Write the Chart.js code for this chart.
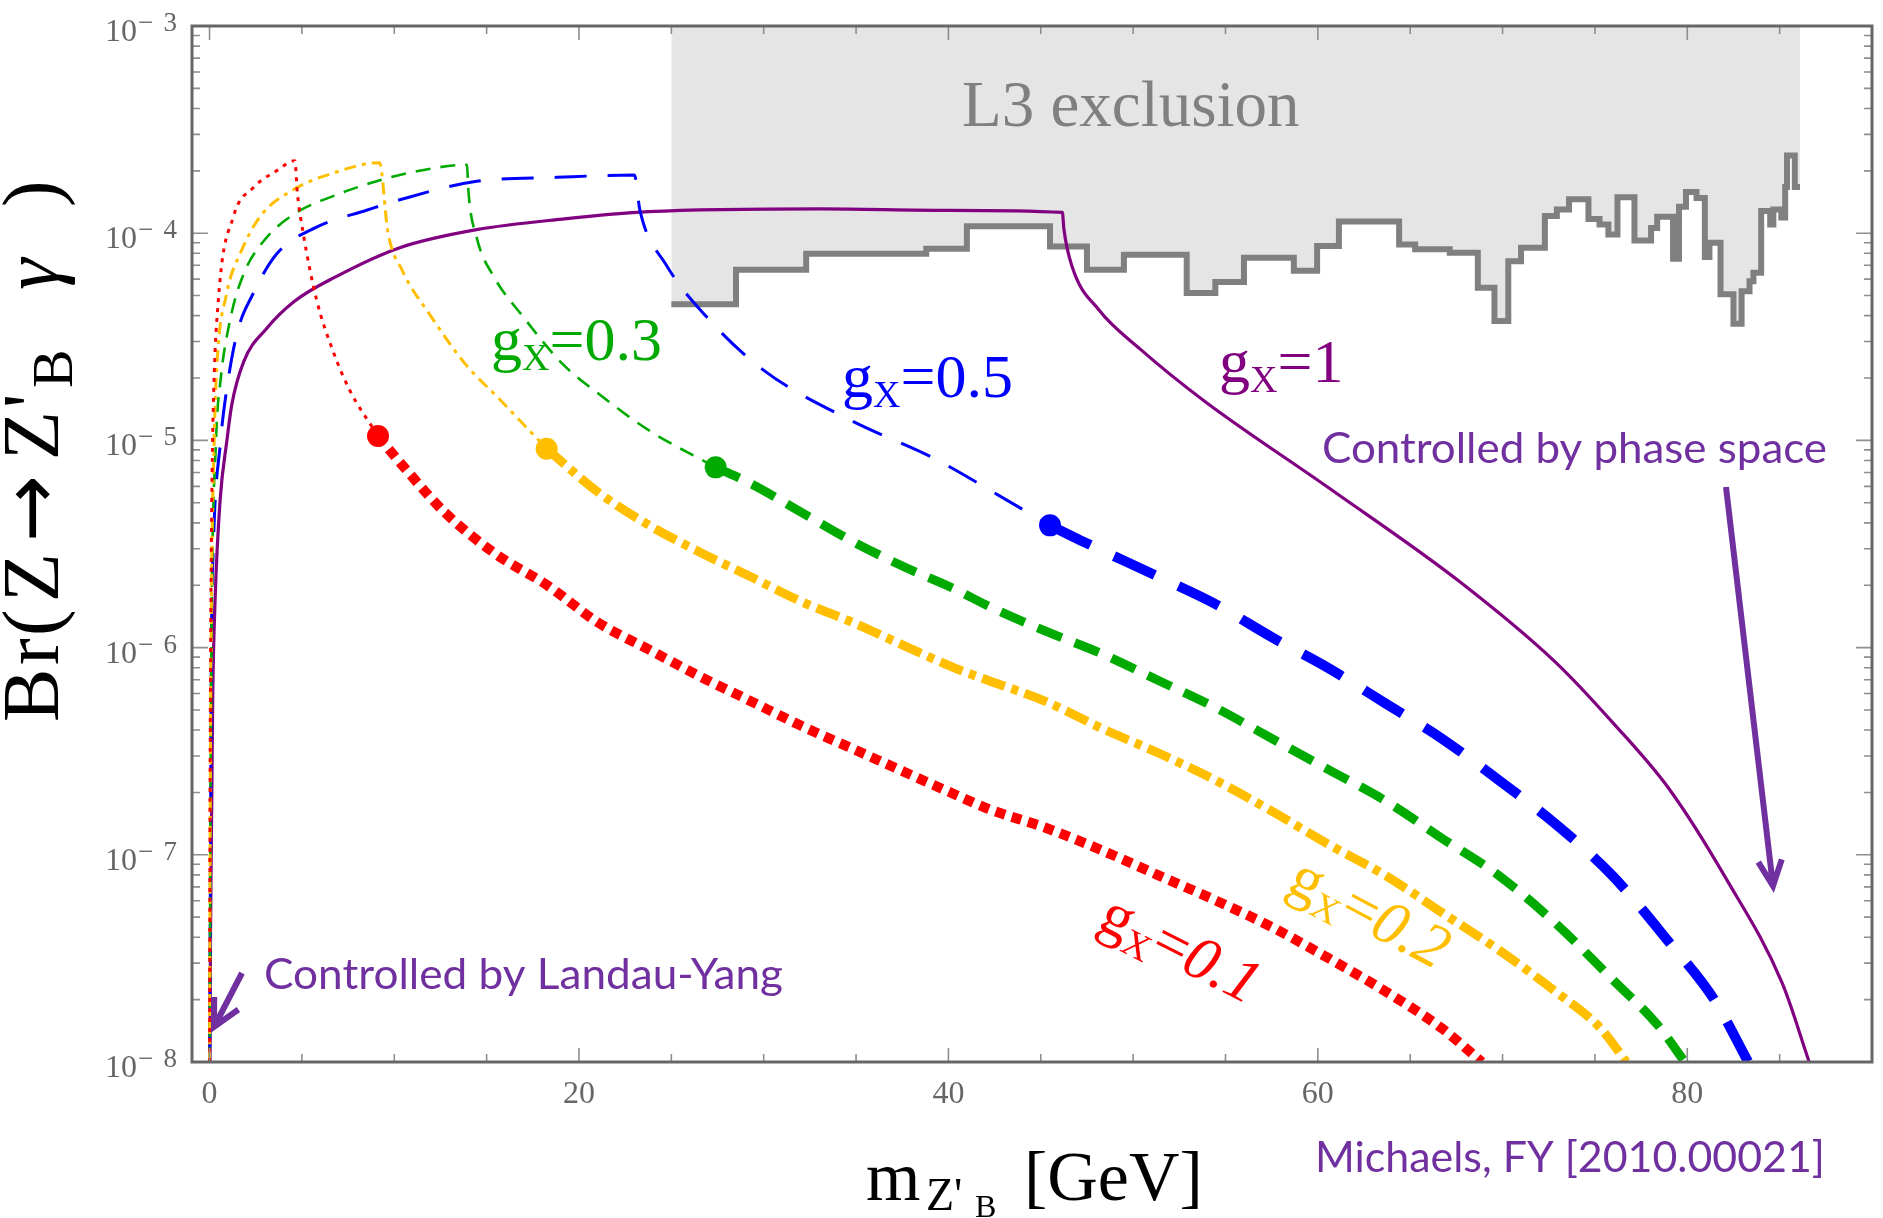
<!DOCTYPE html>
<html>
<head>
<meta charset="utf-8">
<script src="https://cdn.jsdelivr.net/npm/chart.js@4.4.1/dist/chart.umd.min.js"></script>
<style>
html, body { margin: 0; padding: 0; background: #fff; }
</style>
</head>
<body>
<canvas id="brChart" width="1883" height="1218" style="width:1883px;height:1218px;display:block"></canvas>
<script>
// g_x = 0.1 (thin: Landau-Yang rise + turn-over, thick: after the dot)
var redThinMass = [0.005, 0.02, 0.06, 0.12, 0.2, 0.48, 1.29, 2.37, 3.63, 4.62, 4.75, 5.07, 5.79, 6.69, 7.6, 9.12];
var redThinBr = [1e-8, 1e-7, 1e-6, 5.01e-6, 1.41e-5, 4.79e-5, 1.20e-4, 1.66e-4, 2.00e-4, 2.24e-4, 1.58e-4, 1.00e-4, 4.79e-5, 2.69e-5, 1.74e-5, 1.05e-5];
var redThickMass = [9.12, 10.82, 12.76, 15.52, 18.28, 21.04, 23.8, 26.57, 29.33, 32.09, 34.85, 37.62, 40.38, 42.2, 45.26, 48.32, 51.4, 54.46, 57.53, 60.6, 63.67, 66.73, 68.88];
var redThickBr = [1.05e-5, 6.92e-6, 4.47e-6, 2.82e-6, 2.00e-6, 1.32e-6, 9.77e-7, 7.24e-7, 5.50e-7, 4.17e-7, 3.24e-7, 2.51e-7, 1.95e-7, 1.66e-7, 1.35e-7, 1.05e-7, 7.94e-8, 6.03e-8, 4.47e-8, 3.16e-8, 2.19e-8, 1.45e-8, 1e-8];

// g_x = 0.2
var orangeThinMass = [0.005, 0.03, 0.08, 0.25, 0.39, 0.93, 1.65, 2.73, 4.53, 6.69, 9.2, 9.65, 10.43, 11.98, 13.84, 15.7, 18.25];
var orangeThinBr = [1e-8, 1e-7, 1e-6, 1e-5, 2.24e-5, 5.13e-5, 7.94e-5, 1.20e-4, 1.62e-4, 1.95e-4, 2.19e-4, 1.02e-4, 6.61e-5, 3.98e-5, 2.34e-5, 1.58e-5, 9.12e-6];
var orangeThickMass = [18.25, 21.04, 23.8, 26.57, 29.33, 32.09, 34.85, 37.62, 40.38, 42.2, 45.26, 48.32, 51.4, 54.46, 57.53, 60.6, 63.67, 66.73, 69.8, 72.86, 75.32, 76.7];
var orangeThickBr = [9.12e-6, 5.62e-6, 3.89e-6, 2.88e-6, 2.19e-6, 1.66e-6, 1.32e-6, 1.02e-6, 7.94e-7, 6.92e-7, 5.50e-7, 4.07e-7, 3.09e-7, 2.29e-7, 1.62e-7, 1.12e-7, 7.94e-8, 5.25e-8, 3.47e-8, 2.19e-8, 1.45e-8, 1e-8];

// g_x = 0.3
var greenThinMass = [0.01, 0.04, 0.1, 0.35, 0.57, 1.11, 1.83, 2.91, 4.53, 6.69, 9.4, 11.36, 13.94, 14.0, 14.46, 15.39, 16.95, 19.11, 21.29, 23.77, 27.4];
var greenThinBr = [1e-8, 1e-7, 1e-6, 1e-5, 1.86e-5, 3.80e-5, 6.31e-5, 9.12e-5, 1.23e-4, 1.51e-4, 1.82e-4, 2.00e-4, 2.14e-4, 1.66e-4, 9.55e-5, 6.17e-5, 3.98e-5, 2.34e-5, 1.62e-5, 1.12e-5, 7.41e-6];
var greenThickMass = [27.4, 29.33, 32.09, 34.85, 37.62, 40.38, 42.2, 45.26, 48.32, 51.4, 54.46, 57.53, 60.6, 63.67, 66.73, 69.8, 72.86, 75.94, 78.39, 79.87];
var greenThickBr = [7.41e-6, 6.17e-6, 4.47e-6, 3.24e-6, 2.45e-6, 1.91e-6, 1.58e-6, 1.20e-6, 9.33e-7, 6.92e-7, 5.13e-7, 3.63e-7, 2.57e-7, 1.82e-7, 1.20e-7, 7.94e-8, 4.68e-8, 2.51e-8, 1.51e-8, 1e-8];

// g_x = 0.5
var blueThinMass = [0.01, 0.05, 0.1, 0.2, 0.6, 0.84, 1.47, 2.37, 3.63, 5.79, 8.5, 10.3, 14.46, 18.8, 23.0, 23.3, 24.7, 26.87, 29.97, 34.63, 39.29, 43.0, 45.5];
var blueThinBr = [1e-8, 1e-7, 1e-6, 2.95e-6, 1e-5, 1.55e-5, 3.24e-5, 5.13e-5, 7.94e-5, 1.07e-4, 1.29e-4, 1.45e-4, 1.78e-4, 1.86e-4, 1.91e-4, 1.29e-4, 7.08e-5, 3.98e-5, 2.19e-5, 1.26e-5, 8.13e-6, 5.25e-6, 3.89e-6];
var blueThickMass = [45.5, 47.1, 51.4, 54.46, 57.53, 60.6, 63.67, 66.73, 69.8, 72.86, 75.94, 79.0, 81.46, 83.3];
var blueThickBr = [3.89e-6, 3.31e-6, 2.19e-6, 1.62e-6, 1.12e-6, 7.94e-7, 5.37e-7, 3.63e-7, 2.29e-7, 1.41e-7, 7.94e-8, 3.80e-8, 2.00e-8, 1e-8];

// g_x = 1
var purpleMass = [0.02, 0.05, 0.12, 0.17, 0.3, 0.57, 0.94, 1.2, 1.85, 3.09, 4.58, 6.85, 10.3, 14.46, 19.1, 23.77, 33.1, 40, 46.17, 46.25, 46.69, 48.14, 50.4, 53.85, 60.6, 67.65, 72.86, 75.94, 79.0, 82.07, 85.14, 86.6];
var purpleBr = [1e-8, 3.98e-8, 1.82e-7, 5.62e-7, 1.70e-6, 5.13e-6, 1.00e-5, 1.48e-5, 2.40e-5, 3.47e-5, 4.68e-5, 6.17e-5, 8.51e-5, 1.04e-4, 1.17e-4, 1.27e-4, 1.31e-4, 1.29e-4, 1.26e-4, 1.05e-4, 6.92e-5, 4.27e-5, 2.75e-5, 1.55e-5, 5.89e-6, 2.09e-6, 8.51e-7, 4.37e-7, 2.09e-7, 7.76e-8, 2.40e-8, 1e-8];

// dots where thin turns into thick
var dotMass = [9.12, 18.25, 27.4, 45.5];
var dotBr = [1.05e-5, 9.12e-6, 7.41e-6, 3.89e-6];

// L3 bound, value holds from each mass to the next
var l3Mass = [25.0, 28.5, 32.3, 38.8, 41.0, 45.5, 47.5, 49.5, 52.9, 54.45, 56.0, 58.7, 59.96, 61.14, 64.4, 65.27, 67.14, 68.66, 69.56, 70.31, 71.0, 72.29, 72.94, 73.6, 74.65, 75.25, 75.73, 76.22, 77.14, 78.04, 78.37, 79.23, 79.55, 79.93, 80.5, 80.95, 81.2, 81.8, 82.5, 82.94, 83.37, 83.58, 84.0, 84.49, 84.66, 85.09, 85.3, 85.4, 85.82, 86.1];
var l3Br = [4.54e-5, 6.67e-5, 7.96e-5, 8.41e-5, 1.08e-4, 8.63e-5, 6.67e-5, 7.87e-5, 5.14e-5, 5.81e-5, 7.62e-5, 6.58e-5, 8.67e-5, 1.14e-4, 8.83e-5, 8.36e-5, 8.05e-5, 5.46e-5, 3.77e-5, 7.33e-5, 8.51e-5, 1.21e-4, 1.30e-4, 1.46e-4, 1.17e-4, 1.10e-4, 9.86e-5, 1.49e-4, 9.23e-5, 1.06e-4, 1.20e-4, 7.53e-5, 1.34e-4, 1.58e-4, 1.48e-4, 7.67e-5, 8.99e-5, 5.07e-5, 3.66e-5, 5.25e-5, 5.87e-5, 6.44e-5, 1.28e-4, 1.10e-4, 1.30e-4, 1.19e-4, 1.67e-4, 2.37e-4, 1.67e-4, 1.67e-4];

var xTicks = [0, 20, 40, 60, 80];
var xTickLabels = ['0', '20', '40', '60', '80'];
var yTicks = [1e-8, 1e-7, 1e-6, 1e-5, 1e-4, 1e-3];
var yTickExp = ['8', '7', '6', '5', '4', '3'];

var RED = '#ff0000', ORANGE = '#ffbf00', GREEN = '#00aa00', BLUE = '#0000ff', PURPLE = '#800080';
var NOTE = '#7030a0';
var SERIF = '"Liberation Serif", "DejaVu Serif", serif';

function pts(ms, bs) {
  return ms.map(function (m, i) { return { x: m, y: bs[i] }; });
}

function curve(ms, bs, color, width, dash, order) {
  return {
    data: pts(ms, bs),
    borderColor: color,
    borderWidth: width,
    borderDash: dash,
    pointRadius: 0,
    fill: false,
    cubicInterpolationMode: 'monotone',
    clip: 0,
    order: order
  };
}

function drawPieces(ctx, pieces, x, y) {
  var cx = x;
  pieces.forEach(function (p) {
    ctx.font = p.font;
    ctx.fillText(p.text, cx, y + (p.dy || 0));
    cx += ctx.measureText(p.text).width + (p.gap || 0);
  });
  return cx - x;
}

function gLabel(ctx, color, num, italic) {
  ctx.fillStyle = color;
  return [
    { text: 'g', font: '62px ' + SERIF },
    { text: 'X', font: '38px ' + SERIF, dy: 10 },
    { text: '=', font: '62px ' + SERIF },
    { text: num, font: (italic ? 'italic ' : '') + '62px ' + SERIF }
  ];
}

function piecesWidth(ctx, pieces) {
  var w = 0;
  pieces.forEach(function (p) { ctx.font = p.font; w += ctx.measureText(p.text).width + (p.gap || 0); });
  return w;
}

function noteText(ctx, txt, left, right, base) {
  ctx.font = '42px Lato, "Open Sans", sans-serif';
  var w = ctx.measureText(txt).width;
  ctx.save();
  ctx.translate(left, base);
  ctx.scale((right - left) / w, 1);
  ctx.fillStyle = NOTE;
  ctx.textAlign = 'left';
  ctx.fillText(txt, 0, 0);
  ctx.restore();
}

function arrow(ctx, x1, y1, x2, y2, head, spread) {
  var a = Math.atan2(y1 - y2, x1 - x2);
  ctx.beginPath();
  ctx.moveTo(x1, y1);
  ctx.lineTo(x2, y2);
  ctx.moveTo(x2 + head * Math.cos(a - spread), y2 + head * Math.sin(a - spread));
  ctx.lineTo(x2, y2);
  ctx.lineTo(x2 + head * Math.cos(a + spread), y2 + head * Math.sin(a + spread));
  ctx.stroke();
}

var decor = {
  id: 'decor',
  afterDatasetsDraw: function (chart) {
    var ctx = chart.ctx, a = chart.chartArea;
    var xs = chart.scales.x, ys = chart.scales.y;
    ctx.save();

    // inward ticks
    ctx.strokeStyle = '#8e8e8e';
    ctx.lineWidth = 1.6;
    ctx.beginPath();
    for (var t = 0; t < 90; t += 5) {
      var px = xs.getPixelForValue(t);
      var len = (t % 20 === 0) ? 14 : 8;
      ctx.moveTo(px, a.bottom); ctx.lineTo(px, a.bottom - len);
      ctx.moveTo(px, a.top); ctx.lineTo(px, a.top + len);
    }
    for (var d = -8; d < -3; d++) {
      for (var k = 1; k <= 9; k++) {
        var py = ys.getPixelForValue(k * Math.pow(10, d));
        var ln = (k === 1) ? 16 : 8;
        ctx.moveTo(a.left, py); ctx.lineTo(a.left + ln, py);
        ctx.moveTo(a.right, py); ctx.lineTo(a.right - ln, py);
      }
    }
    ctx.stroke();

    // frame
    ctx.strokeStyle = '#666666';
    ctx.lineWidth = 3;
    ctx.strokeRect(a.left, a.top, a.right - a.left, a.bottom - a.top);

    // tick labels
    ctx.fillStyle = '#666666';
    ctx.textBaseline = 'alphabetic';
    ctx.font = '32px ' + SERIF;
    ctx.textAlign = 'center';
    xTicks.forEach(function (v, i) {
      ctx.fillText(xTickLabels[i], xs.getPixelForValue(v), a.bottom + 41);
    });
    yTicks.forEach(function (v, i) {
      var py = ys.getPixelForValue(v);
      ctx.font = '32px ' + SERIF;
      ctx.textAlign = 'right';
      ctx.fillText('10', 137, py + 15);
      ctx.font = '27px ' + SERIF;
      ctx.textAlign = 'left';
      ctx.fillText('\u2212', 138, py + 5);
      ctx.textAlign = 'right';
      ctx.fillText(yTickExp[i], 177, py + 5);
    });

    // axis titles
    ctx.fillStyle = '#000';
    ctx.textAlign = 'left';
    ctx.font = '70px ' + SERIF;
    ctx.fillText('m', 866, 1200);
    ctx.font = '46px ' + SERIF;
    ctx.fillText("Z'", 926, 1210);
    ctx.font = '32px ' + SERIF;
    ctx.fillText('B', 975, 1217);
    ctx.font = '70px ' + SERIF;
    ctx.fillText('[GeV]', 1024, 1200);

    ctx.save();
    ctx.translate(58, 722);
    ctx.rotate(-Math.PI / 2);
    var yt = [
      { t: 'B', at: 0 }, { t: 'r', at: 57 }, { t: '(', at: 86 }, { t: 'Z', at: 120 },
      { t: '\u2192', at: 180, arrow: true }, { t: 'Z', at: 262 }, { t: "'", at: 314 },
      { t: 'B', at: 334, sub: true }, { t: '\u03b3', at: 432, it: true }, { t: ')', at: 515 }
    ];
    yt.forEach(function (g) {
      if (g.arrow) {
        ctx.font = '80px "DejaVu Sans", sans-serif';
      } else {
        ctx.font = (g.it ? 'italic ' : '') + (g.sub ? 58 : 80) + 'px ' + SERIF;
      }
      ctx.fillText(g.t, g.at, g.sub ? 14 : 0);
    });
    ctx.restore();

    // L3 label
    ctx.fillStyle = '#808080';
    ctx.font = '65px ' + SERIF;
    ctx.fillText('L3 exclusion', 962, 126);

    // coupling labels
    drawPieces(ctx, gLabel(ctx, GREEN, '0.3', false), 491, 360);
    drawPieces(ctx, gLabel(ctx, BLUE, '0.5', false), 842, 397);
    drawPieces(ctx, gLabel(ctx, PURPLE, '1', false), 1219, 382);

    [[RED, '0.1', 1180, 950, 27], [ORANGE, '0.2', 1369, 914, 28]].forEach(function (r) {
      var pcs = gLabel(ctx, r[0], r[1], true);
      var w = piecesWidth(ctx, pcs);
      ctx.save();
      ctx.translate(r[2], r[3]);
      ctx.rotate(r[4] * Math.PI / 180);
      drawPieces(ctx, pcs, -w / 2, 18);
      ctx.restore();
    });

    // notes and arrows
    noteText(ctx, 'Controlled by phase space', 1322, 1827, 463);
    noteText(ctx, 'Controlled by Landau-Yang', 264, 783, 989);
    noteText(ctx, 'Michaels, FY [2010.00021]', 1315, 1825, 1172);

    ctx.strokeStyle = NOTE;
    ctx.lineWidth = 6;
    ctx.lineCap = 'butt';
    ctx.lineJoin = 'miter';
    arrow(ctx, 1726, 487, 1773, 886, 28, 25 * Math.PI / 180);
    arrow(ctx, 242, 973, 214, 1027, 30, 27 * Math.PI / 180);

    ctx.restore();
  }
};

new Chart(document.getElementById('brChart').getContext('2d'), {
  type: 'line',
  data: {
    datasets: [
      {
        data: pts(dotMass, dotBr),
        showLine: false,
        pointRadius: 11,
        pointBorderWidth: 0,
        pointBackgroundColor: [RED, ORANGE, GREEN, BLUE],
        order: 0
      },
      curve(redThickMass, redThickBr, RED, 10, [10, 7], 1),
      curve(orangeThickMass, orangeThickBr, ORANGE, 9, [24, 7, 7, 7], 1),
      curve(greenThickMass, greenThickBr, GREEN, 9, [26, 14], 1),
      curve(blueThickMass, blueThickBr, BLUE, 10, [45, 26], 1),
      curve(redThinMass, redThinBr, RED, 3, [4, 6], 2),
      curve(orangeThinMass, orangeThinBr, ORANGE, 3, [12, 6, 4, 6], 2),
      curve(greenThinMass, greenThinBr, GREEN, 2.6, [15, 10], 2),
      curve(blueThinMass, blueThinBr, BLUE, 3, [32, 21], 2),
      curve(purpleMass, purpleBr, PURPLE, 3.2, [], 2),
      {
        data: pts(l3Mass, l3Br),
        borderColor: '#808080',
        borderWidth: 6,
        stepped: 'before',
        fill: 'end',
        backgroundColor: '#e5e5e5',
        pointRadius: 0,
        order: 10
      }
    ]
  },
  options: {
    responsive: false,
    animation: false,
    events: [],
    layout: { padding: { left: 192, top: 26, right: 9, bottom: 156 } },
    scales: {
      x: { type: 'linear', min: -0.95, max: 90, display: false },
      y: { type: 'logarithmic', min: 1e-8, max: 1e-3, display: false }
    },
    plugins: {
      legend: { display: false },
      tooltip: { enabled: false }
    }
  },
  plugins: [decor]
});
</script>
</body>
</html>
